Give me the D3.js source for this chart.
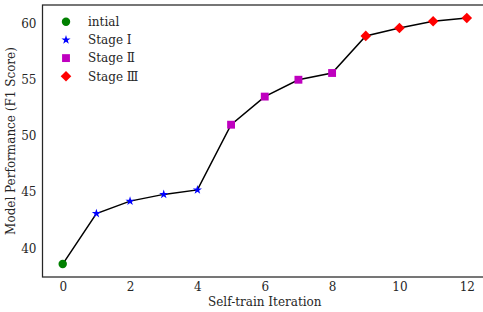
<!DOCTYPE html>
<html>
<head>
<meta charset="utf-8">
<script src="https://cdn.jsdelivr.net/npm/d3@7"></script>
<style>
  body { margin: 0; background: #fff; }
  svg { display: block; }
  text { font-family: "DejaVu Serif", serif; fill: #262626; }
</style>
</head>
<body>
<div id="chart"></div>
<script>
// data
const iterations = [0, 1, 2, 3, 4, 5, 6, 7, 8, 9, 10, 11, 12];
const f1Scores = [38.6, 43.1, 44.2, 44.8, 45.2, 51.0, 53.5, 55.0, 55.6, 58.9, 59.6, 60.2, 60.5];
const stageOf = [0, 1, 1, 1, 1, 2, 2, 2, 2, 3, 3, 3, 3];
const stageNames = ["intial", "Stage \u2160", "Stage \u2161", "Stage \u2162"];
const xTicks = [0, 2, 4, 6, 8, 10, 12];
const yTicks = [40, 45, 50, 55, 60];

const stageColors = ["#008000", "#0000ff", "#bf00bf", "#ff0000"];
const stageSymbols = [d3.symbolCircle, d3.symbolStar, d3.symbolSquare, d3.symbolSquare];
const stageSizes = [56, 26, 62, 56];
const stageRotate = [0, 0, 0, 45];

const width = 483;
const height = 312;
// axes box (right edge runs past the window, as in the original)
const margin = { left: 42.5, top: 5, right: -4, bottom: 35 };
const fontSize = "12px";

const svg = d3
  .select("#chart")
  .append("svg")
  .attr("width", width)
  .attr("height", height);

const x = d3
  .scaleLinear()
  .domain([-0.6, 12.6])
  .range([margin.left, width - margin.right]);

const y = d3
  .scaleLinear()
  .domain([37.45, 61.65])
  .range([height - margin.bottom, margin.top]);

// tick labels, no tick marks
const xAxis = svg
  .append("g")
  .attr("transform", `translate(0,${height - margin.bottom})`)
  .call(d3.axisBottom(x).tickValues(xTicks).tickSize(0).tickPadding(5));
xAxis.select(".domain").remove();
xAxis.selectAll("text").attr("font-size", fontSize);

const yAxis = svg
  .append("g")
  .attr("transform", `translate(${margin.left},0)`)
  .call(d3.axisLeft(y).tickValues(yTicks).tickSize(0).tickPadding(6));
yAxis.select(".domain").remove();
yAxis.selectAll("text").attr("font-size", fontSize);

// spines
svg
  .append("rect")
  .attr("x", x.range()[0])
  .attr("y", y.range()[1])
  .attr("width", x.range()[1] - x.range()[0])
  .attr("height", y.range()[0] - y.range()[1])
  .attr("fill", "none")
  .attr("stroke", "#262626")
  .attr("stroke-width", 1.25);

// line
const line = d3
  .line()
  .x((d, i) => x(iterations[i]))
  .y((d) => y(d));

svg
  .append("path")
  .datum(f1Scores)
  .attr("d", line)
  .attr("fill", "none")
  .attr("stroke", "#000")
  .attr("stroke-width", 1.5);

function marker(s) {
  return d3.symbol().type(stageSymbols[s]).size(stageSizes[s])();
}

// markers
svg
  .append("g")
  .selectAll("path")
  .data(f1Scores)
  .enter()
  .append("path")
  .attr(
    "transform",
    (d, i) => `translate(${x(iterations[i])},${y(d)}) rotate(${stageRotate[stageOf[i]]})`
  )
  .attr("d", (d, i) => marker(stageOf[i]))
  .attr("fill", (d, i) => stageColors[stageOf[i]]);

// legend
const legend = svg
  .append("g")
  .selectAll("g")
  .data(stageNames)
  .enter()
  .append("g")
  .attr("transform", (d, i) => `translate(66,${21.7 + i * 18.2})`);

legend
  .append("path")
  .attr("transform", (d, i) => `rotate(${stageRotate[i]})`)
  .attr("d", (d, i) => marker(i))
  .attr("fill", (d, i) => stageColors[i]);

legend
  .append("text")
  .attr("x", 22)
  .attr("dy", "0.35em")
  .attr("font-size", fontSize)
  .text((d) => d);

// axis titles
svg
  .append("text")
  .attr("x", (x.range()[0] + x.range()[1]) / 2)
  .attr("y", 306)
  .attr("text-anchor", "middle")
  .attr("font-size", fontSize)
  .text("Self-train Iteration");

svg
  .append("text")
  .attr("transform", `translate(15,${(y.range()[0] + y.range()[1]) / 2}) rotate(-90)`)
  .attr("text-anchor", "middle")
  .attr("font-size", fontSize)
  .text("Model Performance (F1 Score)");
</script>
</body>
</html>
